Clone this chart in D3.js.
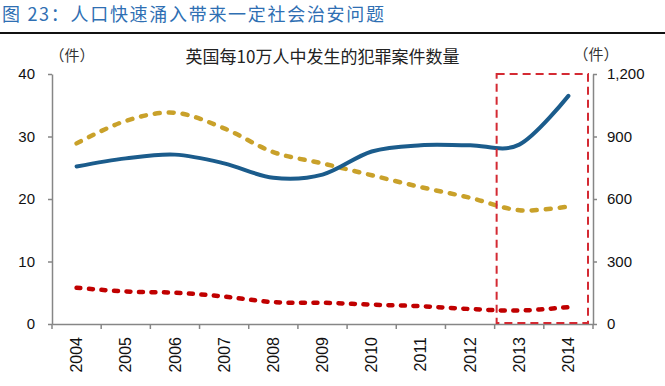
<!DOCTYPE html>
<html>
<head>
<meta charset="utf-8">
<script src="https://cdn.jsdelivr.net/npm/d3@7"></script>
<style>
  body { margin: 0; background: #fff; }
  text { font-family: "Liberation Sans", Arial, "Noto Sans CJK SC", sans-serif; }
  .cjk { font-family: "Noto Sans CJK SC", sans-serif; }
</style>
</head>
<body>
<div id="chart"></div>
<script>
/* DATA */
const years = ["2004", "2005", "2006", "2007", "2008", "2009", "2010", "2011", "2012", "2013", "2014"];
const blueSeries = [25.2, 26.5, 27.1, 25.7, 23.4, 23.9, 27.6, 28.6, 28.6, 28.7, 36.5];
const goldSeries = [28.9, 32.5, 33.8, 31.3, 27.5, 25.7, 23.8, 21.9, 20.2, 18.2, 18.8];
const redSeries = [5.8, 5.2, 5.0, 4.4, 3.5, 3.4, 3.1, 2.85, 2.4, 2.15, 2.7];
const leftTicks = [0, 10, 20, 30, 40];
const rightTicks = [0, 300, 600, 900, 1200];
const highlightYears = ["2013", "2014"];

/* CONSTANTS */
const width = 665;
const height = 386;
const margin = { top: 74, left: 52, right: 72, bottom: 62 };

const svg = d3.select("#chart")
  .append("svg")
  .attr("width", width)
  .attr("height", height);

// SCALES =================================================
const xScale = d3.scaleBand()
  .domain(years)
  .range([margin.left, width - margin.right])
  .padding(0);

const yScale = d3.scaleLinear()
  .domain([0, 40])
  .range([height - margin.bottom, margin.top]);

const yRight = d3.scaleLinear()
  .domain([0, 1200])
  .range([height - margin.bottom, margin.top]);

const axisColor = "#868686";

// HEADER ==================================================
svg.append("text")
  .attr("class", "cjk")
  .attr("x", 2)
  .attr("y", 21)
  .style("font-size", "18px")
  .style("letter-spacing", "1.7px")
  .attr("fill", "#2f6fb3")
  .text("图 23：人口快速涌入带来一定社会治安问题");

svg.append("line")
  .attr("x1", 0).attr("x2", width)
  .attr("y1", 33).attr("y2", 33)
  .attr("stroke", "#111")
  .attr("stroke-width", 2);

svg.append("text")
  .attr("class", "cjk")
  .attr("x", (margin.left + width - margin.right) / 2)
  .attr("y", 63)
  .attr("text-anchor", "middle")
  .style("font-size", "17px")
  .attr("fill", "#222")
  .text("英国每10万人中发生的犯罪案件数量");

svg.append("text")
  .attr("class", "cjk")
  .attr("x", 72)
  .attr("y", 61)
  .attr("text-anchor", "middle")
  .style("font-size", "15px")
  .attr("fill", "#333")
  .text("（件）");

svg.append("text")
  .attr("class", "cjk")
  .attr("x", 596)
  .attr("y", 60)
  .attr("text-anchor", "middle")
  .style("font-size", "15px")
  .attr("fill", "#333")
  .text("（件）");

// AXES ====================================================
const leftAxis = svg.append("g")
  .attr("transform", `translate(${margin.left}, 0)`)
  .call(d3.axisLeft(yScale).tickValues(leftTicks).tickSize(4).tickSizeOuter(0).tickPadding(13));

const rightAxis = svg.append("g")
  .attr("transform", `translate(${width - margin.right}, 0)`)
  .call(d3.axisRight(yRight).tickValues(rightTicks).tickSize(4).tickSizeOuter(0).tickPadding(10)
    .tickFormat(d3.format(",")));

const bottomAxis = svg.append("g")
  .attr("transform", `translate(0, ${height - margin.bottom})`)
  .call(d3.axisBottom(xScale).tickSize(0).tickSizeOuter(0).tickPadding(0));

bottomAxis.selectAll("text")
  .attr("transform", "rotate(-90)")
  .attr("text-anchor", "end")
  .attr("x", -13)
  .attr("y", 0)
  .attr("dy", "0.35em")
  .style("font-size", "16px");

// tick marks sit on the band boundaries
const boundaries = years.map(d => xScale(d)).concat([xScale(years[years.length - 1]) + xScale.bandwidth()]);
svg.append("g")
  .selectAll("line")
  .data(boundaries)
  .join("line")
  .attr("x1", d => d).attr("x2", d => d)
  .attr("y1", height - margin.bottom)
  .attr("y2", height - margin.bottom + 5)
  .attr("stroke", axisColor)
  .attr("stroke-width", 1.5);

[leftAxis, rightAxis, bottomAxis].forEach(g => {
  g.selectAll(".domain, line").attr("stroke", axisColor).attr("stroke-width", 1.5);
  g.selectAll("text").attr("fill", "#111");
});
leftAxis.selectAll("text").style("font-size", "15px");
rightAxis.selectAll("text").style("font-size", "15px");

// LINES ===================================================
const line = d3.line()
  .x((d, i) => xScale(years[i]) + xScale.bandwidth() / 2)
  .y(d => yScale(d))
  .curve(d3.curveCardinal.tension(0));

svg.append("path")
  .datum(goldSeries)
  .attr("d", line)
  .attr("fill", "none")
  .attr("stroke", "#c9a12a")
  .attr("stroke-width", 4.5)
  .attr("stroke-linecap", "round")
  .attr("stroke-dasharray", "5,9");

svg.append("path")
  .datum(redSeries)
  .attr("d", line)
  .attr("fill", "none")
  .attr("stroke", "#c00000")
  .attr("stroke-width", 4.5)
  .attr("stroke-linecap", "round")
  .attr("stroke-dasharray", "4,8.5");

svg.append("path")
  .datum(blueSeries)
  .attr("d", line)
  .attr("fill", "none")
  .attr("stroke", "#1b5c8c")
  .attr("stroke-width", 4)
  .attr("stroke-linecap", "round");

// HIGHLIGHT BOX ===========================================
const boxX0 = xScale(highlightYears[0]) + 2;
const boxX1 = xScale(highlightYears[1]) + xScale.bandwidth() - 5;
svg.append("rect")
  .attr("x", boxX0)
  .attr("y", yScale(40))
  .attr("width", boxX1 - boxX0)
  .attr("height", yScale(0) - yScale(40) - 1)
  .attr("fill", "none")
  .attr("stroke", "#d42a33")
  .attr("stroke-width", 2)
  .attr("stroke-dasharray", "8,5");
</script>
</body>
</html>
